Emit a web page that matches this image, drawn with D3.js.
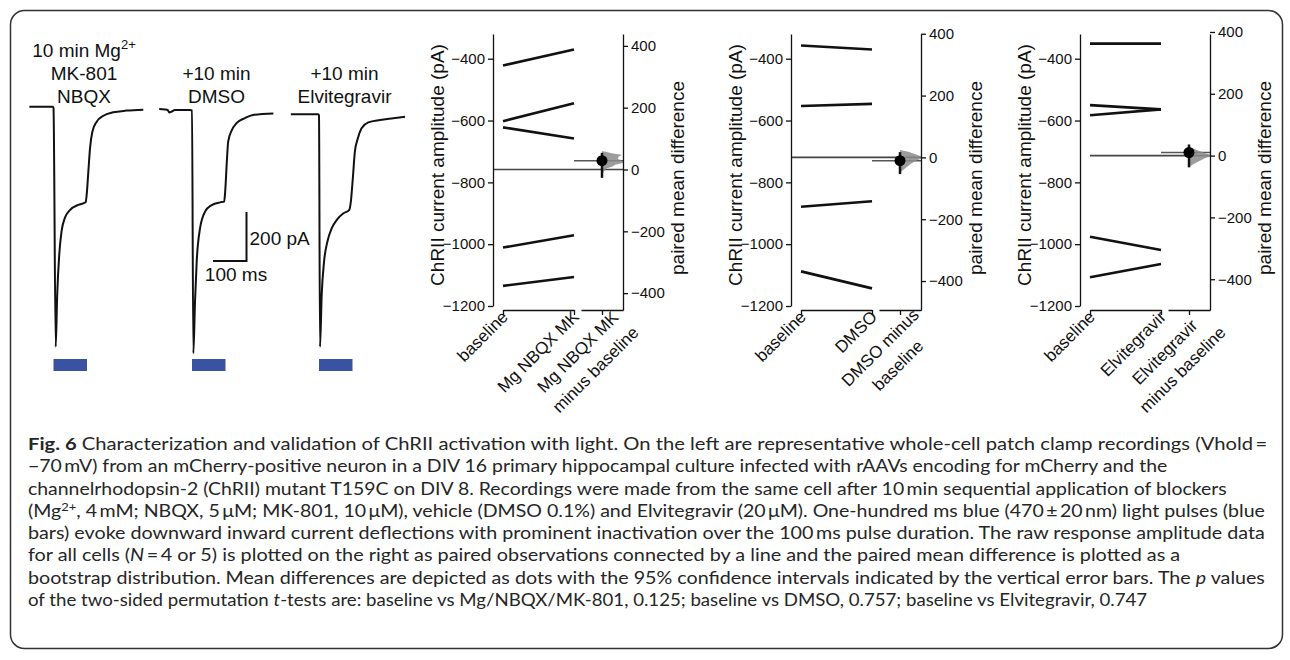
<!DOCTYPE html>
<html lang="en">
<head>
<meta charset="UTF-8" />
<script src="https://d3js.org/d3.v7.min.js"></script>
<title>Fig. 6 ChRII</title>
<style>
  body { margin: 0; background: #fff; }
  svg text { font-family: "Liberation Sans", Arial, sans-serif; fill: #111; }
  .caption { font-family: Lato, "Open Sans", sans-serif; font-size: 16.5px; }
  .caption, .caption tspan { fill: #262626; }
</style>
</head>
<body>
<svg id="fig" width="1290" height="660"></svg>
<script>
// example traces, time in ms from light onset, current in pA
const trace1T = [-72, -2, 0, 6.6, 11, 17, 24, 34, 49, 74, 96, 99, 104, 109, 116, 129, 149, 178, 218, 268]
const trace1I = [0, 0, -5, -980, -769, -606, -509, -454, -422, -401, -390, -360, -265, -170, -102, -61, -37, -23, -16, -12]
const trace2T = [-98, -81, -72, -68, -61, -51, -6, 0, 4, 9, 14, 24, 39, 59, 84, 96, 99, 104, 108, 119, 133, 158, 182, 243]
const trace2I = [2, 0, -3, -12, -9, -2, -2, -4, -995, -784, -621, -485, -417, -390, -379, -376, -336, -213, -131, -84, -56, -35, -22, -16]
const trace3T = [-84, -2, 0, 3, 8, 15, 25, 38, 53, 73, 90, 95, 101, 107, 116, 127, 147, 182, 222, 257]
const trace3I = [0, 0, -5, -949, -738, -602, -520, -465, -431, -404, -391, -357, -261, -153, -98, -57, -33, -23, -16, -10]
const pulse = [0, 100] // ms
const traceTitles = [['10 min Mg^2+', 'MK-801', 'NBQX'], ['+10 min', 'DMSO'], ['+10 min', 'Elvitegravir']]

// paired data (pA)
const groupNames = ['Mg NBQX MK', 'DMSO', 'Elvitegravir']
const baseline1 = [-422, -602, -622, -1011, -1135]
const treated1 = [-370, -544, -658, -971, -1106]
const baseline2 = [-357, -553, -879, -1088]
const treated2 = [-370, -546, -861, -1143]
const baseline3 = [-351, -550, -583, -976, -1107]
const treated3 = [-351, -564, -564, -1019, -1064]
const meanDiff = [28.6, -10.7, 10]
const ciLow = [-27, -54, -38]
const ciHigh = [54, 17, 36]
// bootstrap distributions: [difference, relative density]
const boot1 = [[60, 0], [52, 0.5], [48, 0.9], [41, 0.75], [35, 0.72], [28, 0.9], [22, 1], [15, 0.6], [9, 0.45], [3, 0.2], [-8, 0.06], [-25, 0]]
const boot2 = [[24, 0], [18, 0.38], [10, 0.7], [2, 1], [-3, 1], [-12, 0.7], [-23, 0.45], [-34, 0.25], [-44, 0.08], [-50, 0]]
const boot3 = [[28, 0], [20, 0.3], [10, 0.65], [2, 0.95], [-1, 1], [-8, 0.75], [-18, 0.45], [-28, 0.2], [-36, 0]]
const rawTicks = [-1200, -1000, -800, -600, -400]
const diffTicks = [-400, -200, 0, 200, 400]

const captionLines = [
  [['b', 'Fig. 6'], ['', ' Characterization and validation of ChRII activation with light. On the left are representative whole-cell patch clamp recordings (Vhold\u2009=']],
  [['', '\u221270\u2009mV) from an mCherry-positive neuron in a DIV 16 primary hippocampal culture infected with rAAVs encoding for mCherry and the']],
  [['', 'channelrhodopsin-2 (ChRII) mutant T159C on DIV 8. Recordings were made from the same cell after 10\u2009min sequential application of blockers']],
  [['', '(Mg'], ['sup', '2+'], ['', ', 4\u2009mM; NBQX, 5\u2009\u03bcM; MK-801, 10\u2009\u03bcM), vehicle (DMSO 0.1%) and Elvitegravir (20\u2009\u03bcM). One-hundred ms blue (470\u2009\u00b1\u200920\u2009nm) light pulses (blue']],
  [['', 'bars) evoke downward inward current deflections with prominent inactivation over the 100\u2009ms pulse duration. The raw response amplitude data']],
  [['', 'for all cells ('], ['i', 'N'], ['', '\u2009=\u20094 or 5) is plotted on the right as paired observations connected by a line and the paired mean difference is plotted as a']],
  [['', 'bootstrap distribution. Mean differences are depicted as dots with the 95% confidence intervals indicated by the vertical error bars. The '], ['i', 'p'], ['', ' values']],
  [['', 'of the two-sided permutation '], ['i', 't'], ['', '-tests are: baseline vs Mg/NBQX/MK-801, 0.125; baseline vs DMSO, 0.757; baseline vs Elvitegravir, 0.747']]
]
const captionEnds = [1268, 1168, 1227, 1266, 1266, 1181, 1266, 1148]

const svg = d3.select('#fig')

// frame
svg.append('rect').attr('x', 10.5).attr('y', 10.5).attr('width', 1272).attr('height', 638)
  .attr('rx', 14).attr('fill', 'none').attr('stroke', '#333').attr('stroke-width', 1.5)

// ---- traces ----
const traces = [[trace1T, trace1I], [trace2T, trace2I], [trace3T, trace3I]]
const traceOnset = [53.5, 192, 319]
const traceBase = [106.7, 109.5, 114.3]
const titleX = [84, 216.5, 344.5]
const msPx = 33.5, paPx = 49

traces.forEach((tr, k) => {
  const tx = d3.scaleLinear().domain([0, 100]).range([traceOnset[k], traceOnset[k] + msPx])
  const ty = d3.scaleLinear().domain([0, -200]).range([traceBase[k], traceBase[k] + paPx])
  const line = d3.line().x(d => tx(d[0])).y(d => ty(d[1])).curve(d3.curveMonotoneX)
  svg.append('path').datum(d3.zip(tr[0], tr[1])).attr('d', line)
    .attr('fill', 'none').attr('stroke', '#111').attr('stroke-width', 2).attr('stroke-linejoin', 'round')
  svg.append('rect').attr('x', tx(pulse[0])).attr('width', tx(pulse[1]) - tx(pulse[0]))
    .attr('y', 359).attr('height', 12).attr('fill', '#3a52a2')

  const lines = traceTitles[k]
  const first = 103 - (lines.length - 1) * 23
  lines.forEach((s, j) => {
    const t = svg.append('text').attr('x', titleX[k]).attr('y', first + j * 23)
      .attr('text-anchor', 'middle').attr('font-size', 19)
    if (s.includes('^')) {
      const [a, b] = s.split('^')
      t.append('tspan').text(a)
      t.append('tspan').attr('dy', -8).attr('font-size', 13).text(b)
    } else t.text(s)
  })
})

// scale bar
const sbx = d3.scaleLinear().domain([0, 100]).range([213, 213 + msPx])
const sby = d3.scaleLinear().domain([0, 200]).range([261, 261 - paPx])
svg.append('path').attr('d', `M${sbx(0)},${sby(0)}H${sbx(100)}V${sby(200)}`)
  .attr('fill', 'none').attr('stroke', '#111').attr('stroke-width', 2)
svg.append('text').attr('x', sbx(100) + 3).attr('y', 245).attr('font-size', 19).text('200 pA')
svg.append('text').attr('x', 236).attr('y', 281).attr('text-anchor', 'middle').attr('font-size', 19).text('100 ms')

// ---- paired panels ----
const panelX = [493, 791, 1080]
const baselines = [baseline1, baseline2, baseline3]
const treateds = [treated1, treated2, treated3]
const boots = [boot1, boot2, boot3]

function catLabel(g, lines, x, y) {
  const n = lines.length
  const t = g.append('text').attr('font-size', 17)
    .attr('transform', `translate(${x + 6 + 14 * (n - 1)},${y + 8 - 2 * (n - 1)}) rotate(-45)`)
  lines.forEach((s, j) => t.append('tspan').attr('x', 0).attr('y', j * 25).attr('text-anchor', 'middle').text(s))
  const W = d3.max(t.selectAll('tspan').nodes().map(nd => nd.getComputedTextLength()))
  t.selectAll('tspan').attr('x', -W / 2)
}

function styleAxis(a) {
  a.attr('color', '#111').attr('font-size', 15).attr('font-family', '"Liberation Sans", Arial, sans-serif')
  a.selectAll('path, line').attr('stroke-width', 1.3)
}

panelX.forEach((xL, i) => {
  const g = svg.append('g')
  const name = groupNames[i]
  const base = baselines[i], test = treateds[i]
  const xR = xL + 130
  const y = d3.scaleLinear().domain([-1200, -320]).range([306, 34])
  const x = d3.scalePoint().domain(['baseline', name]).range([xL + 10, xL + 81])
  const xd = d3.scalePoint().domain(['diff']).range([xL + 88, xR])
  const bm = d3.mean(base)
  const yd = d3.scaleLinear().domain([y.invert(310) - bm, -320 - bm]).range([310, 34])

  g.selectAll('line.pair').data(d3.zip(base, test)).join('line').attr('class', 'pair')
    .attr('x1', x('baseline')).attr('x2', x(name))
    .attr('y1', d => y(d[0])).attr('y2', d => y(d[1]))
    .attr('stroke', '#111').attr('stroke-width', 2.6)

  // reference lines
  g.append('line').attr('x1', i === 2 ? x('baseline') : xL).attr('x2', xR).attr('y1', yd(0)).attr('y2', yd(0))
    .attr('stroke', '#444').attr('stroke-width', 1.6)
  g.append('line').attr('x1', x(name)).attr('x2', xR).attr('y1', yd(meanDiff[i])).attr('y2', yd(meanDiff[i]))
    .attr('stroke', '#555').attr('stroke-width', 1.5)

  // bootstrap half violin
  const cx = xd('diff')
  const w = d3.scaleLinear().domain([0, 1]).range([0, 22])
  const area = d3.area().x0(cx).x1(d => cx + w(d[1])).y(d => yd(d[0]))
  g.append('path').datum(boots[i]).attr('d', area).attr('fill', '#8c8c8c').attr('opacity', 0.85)

  // CI and mean
  g.append('line').attr('x1', cx).attr('x2', cx).attr('y1', yd(ciLow[i])).attr('y2', yd(ciHigh[i]))
    .attr('stroke', '#111').attr('stroke-width', 2.5)
  g.append('circle').attr('cx', cx).attr('cy', yd(meanDiff[i])).attr('r', 5.5).attr('fill', '#000')

  // axes
  const ay = g.append('g').attr('transform', `translate(${xL},0)`)
    .call(d3.axisLeft(y).tickValues(rawTicks).tickFormat(d3.format('d')).tickSize(5).tickSizeOuter(0))
  styleAxis(ay)
  const ax = g.append('g').attr('transform', 'translate(0,310)')
    .call(d3.axisBottom(x).tickSize(5).tickSizeOuter(0))
  ax.selectAll('text').remove()
  styleAxis(ax)
  const ar = g.append('g').attr('transform', `translate(${xR},0)`)
    .call(d3.axisRight(yd).tickValues(diffTicks).tickFormat(d3.format('d')).tickSize(5).tickSizeOuter(0))
  styleAxis(ar)
  const axd = g.append('g').attr('transform', 'translate(0,310)')
    .call(d3.axisBottom(xd).tickSize(5).tickSizeOuter(0))
  axd.selectAll('text').remove()
  styleAxis(axd)

  catLabel(g, ['baseline'], x('baseline'), 310)
  catLabel(g, [name], x(name), 310)
  catLabel(g, [name + (i === 1 ? ' minus' : ''), i === 1 ? 'baseline' : 'minus baseline'], cx, 310)

  g.append('text').attr('transform', `translate(${xL - 56},165) rotate(-90)`).attr('dy', '0.35em')
    .attr('text-anchor', 'middle').attr('font-size', 19).text('ChRII current amplitude (pA)')
  g.append('text').attr('transform', `translate(${xR + 54},178) rotate(-90)`).attr('dy', '0.35em')
    .attr('text-anchor', 'middle').attr('font-size', 19).text('paired mean difference')
})

// ---- caption ----
captionLines.forEach((parts, j) => {
  const t = svg.append('text').attr('class', 'caption').attr('x', 28).attr('y', 450 + j * 22.3)
  let lift = 0
  parts.forEach(([kind, s]) => {
    const sp = t.append('tspan').text(s)
    if (lift) { sp.attr('dy', lift); lift = 0 }
    if (kind === 'b') sp.attr('font-weight', 'bold')
    if (kind === 'i') sp.attr('font-style', 'italic')
    if (kind === 'sup') { sp.attr('dy', -6).attr('font-size', 11); lift = 6 }
  })
  const natural = t.node().getComputedTextLength()
  const k = (captionEnds[j] - 28) / natural
  t.attr('transform', `translate(28,0) scale(${k},1) translate(-28,0)`)
})
</script>
</body>
</html>
